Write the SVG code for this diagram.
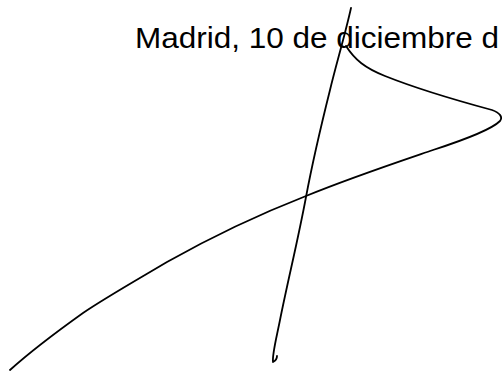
<svg xmlns="http://www.w3.org/2000/svg" width="502" height="372" viewBox="0 0 502 372">
<style>
.ink{fill:none;stroke:#000;stroke-width:1.8;stroke-linecap:round;stroke-linejoin:round}
.t{font-family:"Liberation Sans",Arial,sans-serif;font-size:29px;fill:#000}
</style>
<rect width="502" height="372" fill="#fff"/>
<text class="t" x="135" y="48" textLength="364" lengthAdjust="spacingAndGlyphs">Madrid, 10 de diciembre d</text>
<g id="signature">
<path class="ink" d="M351,8 C345,35 336,65 330,90 C320,130 312,165 306,197 C298,240 288,280 280,320 C276,340 272,355 273,362 C275,361 277,359 277,356"/>
<path class="ink" d="M346,46 C355,60 365,68 385,76 C420,90 455,100 492,110 C500,113 503,117 500,121 C492,129 470,138 433,150 C395,163 350,178 306,196 C265,212 215,235 167,262 C135,281 105,298 83,313 C55,333 30,352 10,370"/>
</g>
</svg>
